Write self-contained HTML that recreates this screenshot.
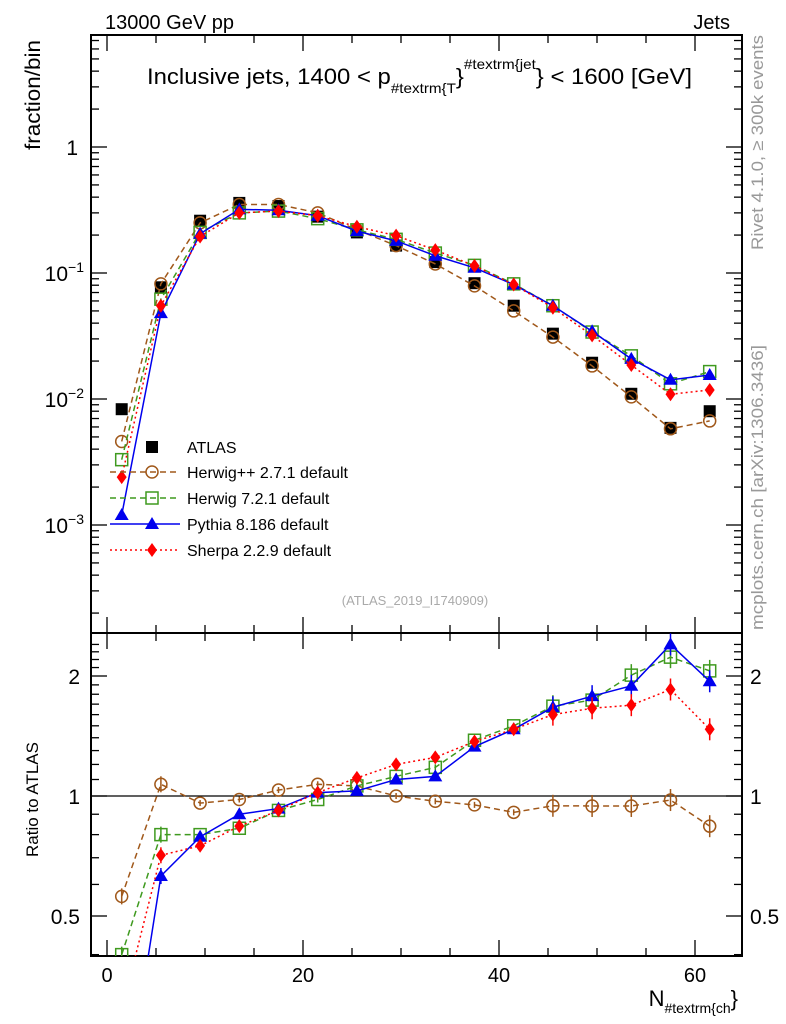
<!DOCTYPE html>
<html><head><meta charset="utf-8"><style>
html,body{margin:0;padding:0;background:#fff;overflow:hidden;width:786px;height:1024px;}
svg{display:block;font-family:"Liberation Sans",sans-serif;}
</style></head><body>
<svg id="c" width="786" height="1024" viewBox="0 0 786 1024">
<text x="105" y="29" font-size="20">13000 GeV pp</text>
<text x="730" y="29" font-size="20" text-anchor="end">Jets</text>
<text x="147" y="84" font-size="22" textLength="545" lengthAdjust="spacingAndGlyphs">Inclusive jets, 1400 &lt; p<tspan font-size="14" dy="9">#textrm{T</tspan><tspan dy="-9">}</tspan><tspan font-size="14" dy="-15">#textrm{jet</tspan><tspan dy="15">} &lt; 1600 [GeV]</tspan></text>
<text transform="translate(40,150) rotate(-90)" font-size="21" textLength="110" lengthAdjust="spacingAndGlyphs">fraction/bin</text>
<text transform="translate(38,857) rotate(-90)" font-size="17">Ratio to ATLAS</text>
<text transform="translate(763,250) rotate(-90)" font-size="17" fill="#999" textLength="215" lengthAdjust="spacingAndGlyphs">Rivet 4.1.0, ≥ 300k events</text>
<text transform="translate(763,630) rotate(-90)" font-size="17" fill="#999" textLength="285" lengthAdjust="spacingAndGlyphs">mcplots.cern.ch [arXiv:1306.3436]</text>
<text x="415" y="605" font-size="13" fill="#aaa" text-anchor="middle">(ATLAS_2019_I1740909)</text>
<text x="738" y="1006" font-size="22" text-anchor="end">N<tspan font-size="14" dy="7">#textrm{ch</tspan><tspan dy="-7">}</tspan></text>
<g id="g"></g>
</svg>
<script>
const xCenters=[1.5,5.5,9.5,13.5,17.5,21.5,25.5,29.5,33.5,37.5,41.5,45.5,49.5,53.5,57.5,61.5];
const atlas=[0.0083,0.077,0.26,0.36,0.34,0.28,0.21,0.165,0.122,0.083,0.055,0.033,0.0194,0.011,0.0059,0.0080];
const herwigpp=[0.0046,0.082,0.25,0.35,0.35,0.30,0.22,0.165,0.118,0.079,0.050,0.031,0.0183,0.0104,0.0058,0.0067];
const herwig7=[0.0033,0.062,0.21,0.30,0.31,0.27,0.22,0.185,0.144,0.115,0.082,0.055,0.034,0.022,0.0132,0.0165];
const pythia=[0.0012,0.048,0.205,0.32,0.315,0.285,0.215,0.18,0.137,0.11,0.081,0.055,0.0345,0.0208,0.0142,0.0155];
const sherpa=[0.0024,0.055,0.195,0.30,0.31,0.285,0.233,0.198,0.152,0.114,0.081,0.053,0.032,0.0186,0.0109,0.0118];
const rHerwigpp=[0.56,1.07,0.96,0.98,1.035,1.07,1.06,1.0,0.97,0.95,0.91,0.945,0.944,0.944,0.977,0.84];
const rHerwig7=[0.40,0.80,0.80,0.83,0.92,0.98,1.06,1.12,1.18,1.38,1.5,1.68,1.74,2.01,2.23,2.06];
const rPythia=[0.15,0.63,0.79,0.90,0.93,1.02,1.03,1.10,1.12,1.33,1.47,1.67,1.78,1.89,2.4,1.94];
const rSherpa=[0.29,0.71,0.75,0.84,0.92,1.02,1.11,1.2,1.25,1.37,1.47,1.6,1.66,1.69,1.85,1.47];
const xTicks=[0,20,40,60];
const yTickLabels=["1","10","10","10"];
const yTickExps=[0,-1,-2,-3];
const rTicks=[0.5,1,2];

const NS="http://www.w3.org/2000/svg";
const g=document.getElementById('g');
const L=91,R=742,T=35,M=633,B=956;
const X=v=>107+v*9.8;
const Y=v=>147-126*Math.log10(v);
const RY=v=>796-120*Math.log2(v);
function el(t,a,p){const e=document.createElementNS(NS,t);for(const k in a)e.setAttribute(k,a[k]);(p||g).appendChild(e);return e;}

let f1=el('rect',{x:L,y:T,width:R-L,height:M-T,fill:'none',stroke:'#000','stroke-width':2});


let f2=el('rect',{x:L,y:M,width:R-L,height:B-M,fill:'none',stroke:'#000','stroke-width':2});


for(let v=0;v<=64;v+=5){
  const big=v%20===0, len=big?16:8, x=X(v);
  [[M,-1],[T,1],[B,-1],[M,1]].forEach(([y,d])=>el('line',{x1:x,x2:x,y1:y,y2:y+d*len,stroke:'#000','stroke-width':1.3}));
}
xTicks.forEach(v=>{const t=el('text',{x:X(v),y:982,'font-size':20,'text-anchor':'middle'});t.textContent=v;

});
for(let e=-4;e<=0;e++){for(let m=1;m<10;m++){const v=m*Math.pow(10,e);const y=Y(v);if(y<T||y>M)continue;const len=m===1?16:8;
 el('line',{x1:L,x2:L+len,y1:y,y2:y,stroke:'#000','stroke-width':1.3});el('line',{x1:R,x2:R-len,y1:y,y2:y,stroke:'#000','stroke-width':1.3});}}
yTickExps.forEach((e,i)=>{const y=Y(Math.pow(10,e));const t=el('text',{x:78,y:y+8,'font-size':21,'text-anchor':'end'});
 t.textContent=yTickLabels[i];
 if(e!==0){const s=el('tspan',{'font-size':14,dy:-9},t);s.textContent='−'+(-e);t.setAttribute('x',84);}

});
for(let v=0.4;v<=2.5;v+=0.1){const y=RY(v);if(y<M||y>B)continue;const big=Math.abs(v-0.5)<1e-6||Math.abs(v-1)<1e-6||Math.abs(v-2)<1e-6;const len=big?16:8;
 el('line',{x1:L,x2:L+len,y1:y,y2:y,stroke:'#000','stroke-width':1.3});el('line',{x1:R,x2:R-len,y1:y,y2:y,stroke:'#000','stroke-width':1.3});}
rTicks.forEach(v=>{const y=RY(v);[[80,'end'],[750,'start']].forEach(([x,a])=>{const t=el('text',{x:x,y:y+8,'font-size':21,'text-anchor':a});t.textContent=v;

});});
el('line',{x1:L,x2:R,y1:RY(1),y2:RY(1),stroke:'#000','stroke-width':1.3});

const clipM=el('clipPath',{id:'cm'});el('rect',{x:L,y:T,width:R-L,height:M-T},clipM);
const clipR=el('clipPath',{id:'cr'});el('rect',{x:L,y:M,width:R-L,height:B-M},clipR);

function marker(p,kind,x,y,col){
  if(kind==='sq') el('rect',{x:x-6,y:y-6,width:12,height:12,fill:'#000'},p);
  else if(kind==='circ') el('circle',{cx:x,cy:y,r:6,fill:'none',stroke:col,'stroke-width':1.5},p);
  else if(kind==='osq') el('rect',{x:x-6,y:y-6,width:12,height:12,fill:'none',stroke:col,'stroke-width':1.5},p);
  else if(kind==='tri') el('polygon',{points:`${x},${y-7} ${x-7},${y+5} ${x+7},${y+5}`,fill:col},p);
  else if(kind==='dia') el('polygon',{points:`${x},${y-7} ${x-5},${y} ${x},${y+7} ${x+5},${y}`,fill:col},p);
}
const series=[
 {name:'herwigpp',vals:herwigpp,r:rHerwigpp,col:'#a0581a',dash:'6,4',kind:'circ',label:'Herwig++ 2.7.1 default'},
 {name:'herwig7',vals:herwig7,r:rHerwig7,col:'#3f9a1f',dash:'6,4',kind:'osq',label:'Herwig 7.2.1 default'},
 {name:'pythia',vals:pythia,r:rPythia,col:'#0000ee',dash:'',kind:'tri',label:'Pythia 8.186 default'},
 {name:'sherpa',vals:sherpa,r:rSherpa,col:'#ff0000',dash:'2,3',kind:'dia',label:'Sherpa 2.2.9 default'}
];
const gm=el('g',{'clip-path':'url(#cm)'});


const gr=el('g',{'clip-path':'url(#cr)'});


atlas.forEach((v,i)=>{const p=el('g',{},gm);


marker(p,'sq',X(xCenters[i]),Y(v),'#000');});
series.forEach(s=>{
  const pl=el('polyline',{points:s.vals.map((v,i)=>X(xCenters[i])+','+Y(v)).join(' '),fill:'none',stroke:s.col,'stroke-width':1.5,'stroke-dasharray':s.dash},gm);
  
  
  s.vals.forEach((v,i)=>{const p=el('g',{},gm);
  
  
  marker(p,s.kind,X(xCenters[i]),Y(v),s.col);});
  const rl=el('polyline',{points:s.r.map((v,i)=>X(xCenters[i])+','+RY(v)).join(' '),fill:'none',stroke:s.col,'stroke-width':1.5,'stroke-dasharray':s.dash},gr);
  
  
  s.r.forEach((v,i)=>{const x=X(xCenters[i]),y=RY(v);const p=el('g',{},gr);
  
  
  const e=i>=11?11:(i<=1?8:3);
  el('line',{x1:x,x2:x,y1:y-e,y2:y+e,stroke:s.col,'stroke-width':1.5},p);
  marker(p,s.kind,x,y,s.col);});
});
const lg=el('g',{});


const ly=[447,472,498,524,550];
const le0=el('g',{},lg);


marker(le0,'sq',152,ly[0],'#000');
let tt=el('text',{x:187,y:ly[0]+6,'font-size':16},le0);tt.textContent='ATLAS';
series.forEach((s,k)=>{const e=el('g',{},lg);


const y=ly[k+1];
el('line',{x1:110,x2:180,y1:y,y2:y,stroke:s.col,'stroke-width':1.5,'stroke-dasharray':s.dash},e);
marker(e,s.kind,152,y,s.col);
const t=el('text',{x:187,y:y+6,'font-size':16},e);t.textContent=s.label;});
</script>
</body></html>
